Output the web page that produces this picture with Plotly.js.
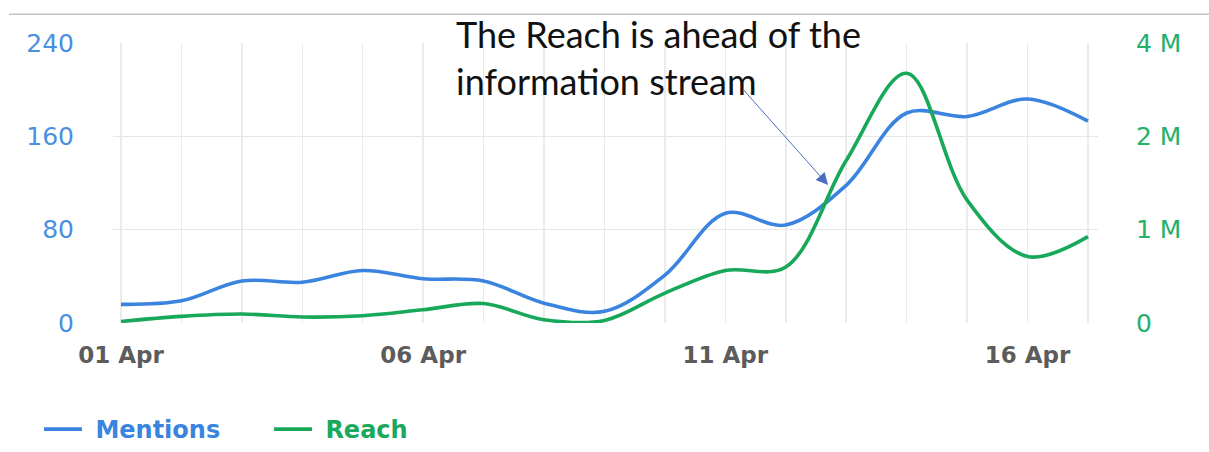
<!DOCTYPE html>
<html>
<head>
<meta charset="utf-8">
<script src="https://cdn.plot.ly/plotly-3.0.1.min.js"></script>
<style>html,body{margin:0;padding:0;background:#fff;}#chart{width:1209px;height:452px;}</style>
</head>
<body>
<div id="chart"></div>
<script>
// Days of April (1..17)
const days = [1,2,3,4,5,6,7,8,9,10,11,12,13,14,15,16,17];
const dayLabels = ['01 Apr','','','','','06 Apr','','','','','11 Apr','','','','','16 Apr',''];
const mentions = [16,19,36,35,45,38,36,17,10,41,94,84,118,180,177,192,173];
const reach = [20000,85000,115000,77000,94000,170000,250000,42000,33000,385000,675000,720000,2090000,3210000,1580000,855000,1110000];
const leftTicks = [0,80,160,240];
const leftTickText = ['0','80','160','240'];
const rightTicks = [0,1200000,2400000,3600000];
const rightTickText = ['0','1 M','2 M','4 M'];
const seriesNames = ['Mentions','Reach'];
const noteText = 'The Reach is ahead of the<br>information stream';

const blue = '#3a84e0';
const green = '#17a85a';

const traces = [
  {x: days, y: mentions, name: '<span style="color:#3a84e0">&nbsp;'+seriesNames[0]+'</span>', type:'scatter', mode:'lines',
   line:{color: blue, width:3.6, shape:'spline', smoothing:1}, yaxis:'y'},
  {x: days, y: reach, name: '<span style="color:#1aa85c">&nbsp;'+seriesNames[1]+'</span>', type:'scatter', mode:'lines',
   line:{color: green, width:3.6, shape:'spline', smoothing:1}, yaxis:'y2'}
];

const layout = {
  width:1209, height:452,
  margin:{l:113, r:111, t:42.7, b:128.7, autoexpand:false},
  paper_bgcolor:'#fff', plot_bgcolor:'#fff',
  showlegend:true,
  font:{family:'"DejaVu Sans", sans-serif'},
  xaxis:{
    range:[0.868,17.166], tickmode:'array', tickvals:days, ticktext:dayLabels,
    showgrid:true, gridcolor:'#ebebeb', gridwidth:1.5, zeroline:false, showline:false,
    ticks:'', ticklabelstandoff:16,
    tickfont:{family:'"DejaVu Sans", sans-serif', size:23, color:'#5c5c5c', weight:700}
  },
  yaxis:{
    range:[0,240], tickmode:'array', tickvals:leftTicks, ticktext:leftTickText,
    showgrid:true, gridcolor:'#e6e6e6', gridwidth:1.5, zeroline:false, showline:false,
    ticks:'', ticklabelstandoff:38,
    tickfont:{family:'"DejaVu Sans", sans-serif', size:25, color:'#4a8fe0'}
  },
  yaxis2:{
    range:[0,3600000], overlaying:'y', side:'right', tickmode:'array', tickvals:rightTicks, ticktext:rightTickText,
    showgrid:false, zeroline:false, showline:false,
    ticks:'', ticklabelstandoff:37,
    tickfont:{family:'"DejaVu Sans", sans-serif', size:25, color:'#22b06a'}
  },
  legend:{orientation:'h', x:-0.0751, xanchor:'left', yref:'container', y:0, yanchor:'bottom', itemwidth:38,
    font:{family:'"DejaVu Sans", sans-serif', size:24, weight:700}, entrywidth:177, entrywidthmode:'pixels', bgcolor:'rgba(0,0,0,0)'},
  shapes:[
    {type:'line', xref:'paper', yref:'paper', x0:-0.1056, x1:1.1127, y0:1.1023, y1:1.1023, line:{color:'#c4c4c4', width:1.5}}
  ],
  annotations:[
    {xref:'paper', yref:'paper', x:0.346, y:1.118, xanchor:'left', yanchor:'top', align:'left', showarrow:false,
     text: noteText, font:{family:'Lato, "Open Sans", sans-serif', size:36, color:'#111'}},
    {xref:'x', yref:'y', axref:'x', ayref:'y', x:12.70, y:118.3, ax:11.28, ay:201, text:'', showarrow:true,
     arrowhead:2, arrowsize:2.4, arrowwidth:1, arrowcolor:'#4a6fc0'}
  ]
};

Plotly.newPlot('chart', traces, layout, {displayModeBar:false, staticPlot:true});
</script>
</body>
</html>
